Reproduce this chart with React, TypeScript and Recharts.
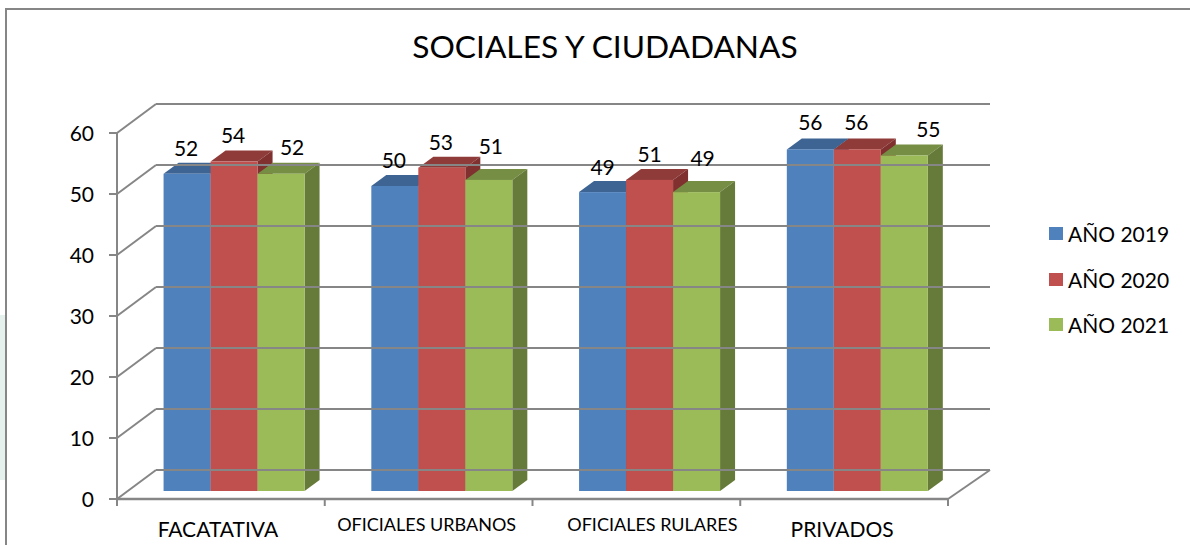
import { Bar, BarChart, LabelList, Legend, XAxis, YAxis } from 'recharts'

const categories = ['FACATATIVA', 'OFICIALES URBANOS', 'OFICIALES RULARES', 'PRIVADOS']
const series2019 = [52, 50, 49, 56]
const series2020 = [54, 53, 51, 56]
const series2021 = [52, 51, 49, 55]
const yTicks = [0, 10, 20, 30, 40, 50, 60]

const data = categories.map((name, i) => ({
  name,
  y2019: series2019[i],
  y2020: series2020[i],
  y2021: series2021[i],
}))

const FONT = 'Lato, "Open Sans", sans-serif'
const AXIS = '#868686'

// the fake 3d: how far the back wall sits behind the axes, how far the bars
// stand inside the floor and how deep they are
const WALL_DX = 39
const WALL_DY = -29
const WALL_RIGHT = 990
const BAR_DX = 12.5
const BAR_DY = -8
const DEPTH_DX = 15
const DEPTH_DY = -11

const xLabelStyle = [
  { size: 21, dx: -3, y: 531 },
  { size: 18, dx: -2, y: 525 },
  { size: 18, dx: 16, y: 525 },
  { size: 21, dx: -2, y: 531 },
]

// excel puts the labels of the last series further right and a bit off
const labelNudge = {
  y2019: [-1, -1, 0, 0],
  y2020: [-1, -1, 0, -1],
  y2021: [11, 2, 6, 24],
}
const labelLift = {
  y2019: [1, 1, 2, 0],
  y2020: [0, 1, 1, 0],
  y2021: [0, -7, -7, 0],
}

function Bar3d(props: any) {
  const { x, y, width, height, front, top, side } = props
  const l = x + BAR_DX
  const r = l + width
  const t = y + BAR_DY
  const b = t + height
  return (
    <g>
      <polygon
        points={`${l},${t} ${l + DEPTH_DX},${t + DEPTH_DY} ${r + DEPTH_DX},${t + DEPTH_DY} ${r},${t}`}
        fill={top}
      />
      <polygon
        points={`${r},${t} ${r + DEPTH_DX},${t + DEPTH_DY} ${r + DEPTH_DX},${b + DEPTH_DY} ${r},${b}`}
        fill={side}
      />
      <rect x={l} y={t} width={width} height={height} fill={front} />
    </g>
  )
}

function YTick(props: any) {
  const { x, y, payload } = props
  return (
    <g>
      <line x1={x - 8} y1={y} x2={x} y2={y} stroke={AXIS} strokeWidth={2} />
      <line x1={x} y1={y} x2={x + WALL_DX} y2={y + WALL_DY} stroke={AXIS} strokeWidth={2} />
      <line x1={x + WALL_DX} y1={y + WALL_DY} x2={WALL_RIGHT} y2={y + WALL_DY} stroke={AXIS} strokeWidth={2} />
      <text x={x - 23} y={y + 8} textAnchor="end" fontSize={21} fontFamily={FONT} fill="#000">
        {payload.value}
      </text>
    </g>
  )
}

function XTick(props: any) {
  const { x, y, payload, index, width } = props
  const band = width / categories.length
  const st = xLabelStyle[index]
  const last = index === categories.length - 1
  return (
    <g>
      <line x1={x - band / 2} y1={y} x2={x - band / 2} y2={y + 7} stroke={AXIS} strokeWidth={2} />
      {last && <line x1={x + band / 2} y1={y} x2={x + band / 2} y2={y + 7} stroke={AXIS} strokeWidth={2} />}
      {last && (
        <line x1={x + band / 2} y1={y} x2={WALL_RIGHT} y2={y + WALL_DY} stroke={AXIS} strokeWidth={2} />
      )}
      <text x={x + st.dx} y={st.y} dy={6} textAnchor="middle" fontSize={st.size} fontFamily={FONT} fill="#000">
        {payload.value}
      </text>
    </g>
  )
}

function valueLabel(key: keyof typeof labelNudge) {
  return (props: any) => {
    const { x, y, width, value, index } = props
    return (
      <text
        x={x + BAR_DX + width / 2 + labelNudge[key][index]}
        y={y + BAR_DY - 19 + labelLift[key][index]}
        textAnchor="middle"
        fontSize={21}
        fontFamily={FONT}
        fill="#000"
      >
        {value}
      </text>
    )
  }
}

function LegendBox({ payload }: any) {
  return (
    <div style={{ fontFamily: FONT, fontSize: 21, color: '#000' }}>
      {payload.map((p: any) => (
        <div key={p.value} style={{ display: 'flex', alignItems: 'center', height: 45.5 }}>
          <span style={{ width: 14, height: 13, background: p.color, marginRight: 5 }} />
          {p.value}
        </div>
      ))}
    </div>
  )
}

export default function App() {
  return (
    <div
      style={{
        position: 'absolute',
        left: 0,
        top: 0,
        width: 1190,
        height: 545,
        overflow: 'hidden',
        background: '#fff',
      }}
    >
      <div style={{ position: 'absolute', left: 0, top: 315, width: 5, height: 165, background: '#E4F1EC' }} />
      <div style={{ position: 'absolute', left: 5, top: 8, width: 1185, height: 2, background: AXIS }} />
      <div style={{ position: 'absolute', left: 5, top: 8, width: 2, height: 537, background: AXIS }} />
      <div
        style={{
          position: 'absolute',
          left: 0,
          width: 1190,
          top: 24,
          textAlign: 'center',
          fontFamily: FONT,
          fontSize: 31.7,
          lineHeight: '44px',
          color: '#000',
          textIndent: 20,
        }}
      >
        SOCIALES Y CIUDADANAS
      </div>
      <BarChart
        width={1190}
        height={545}
        data={data}
        margin={{ top: 133, right: 102, bottom: 0, left: 0 }}
        barCategoryGap="16.4%"
        barGap={0}
      >
        <YAxis
          width={117}
          domain={[0, 60]}
          ticks={yTicks}
          interval={0}
          tick={<YTick />}
          tickLine={false}
          tickSize={0}
          tickMargin={0}
          axisLine={{ stroke: AXIS, strokeWidth: 2 }}
        />
        <XAxis
          dataKey="name"
          height={46}
          interval={0}
          tick={<XTick />}
          tickLine={false}
          tickSize={0}
          tickMargin={0}
          axisLine={{ stroke: AXIS, strokeWidth: 2.5 }}
        />
        <Legend
          layout="vertical"
          align="right"
          verticalAlign="top"
          wrapperStyle={{ left: 1049, top: 211, width: 140 }}
          content={<LegendBox />}
        />
        <Bar
          dataKey="y2019"
          name="AÑO 2019"
          fill="#4F81BD"
          isAnimationActive={false}
          shape={<Bar3d front="#4F81BD" top="#3D6493" side="#3A5F8B" />}
        >
          <LabelList dataKey="y2019" content={valueLabel('y2019')} />
        </Bar>
        <Bar
          dataKey="y2020"
          name="AÑO 2020"
          fill="#C0504D"
          isAnimationActive={false}
          shape={<Bar3d front="#C0504D" top="#8F3B39" side="#7F302F" />}
        >
          <LabelList dataKey="y2020" content={valueLabel('y2020')} />
        </Bar>
        <Bar
          dataKey="y2021"
          name="AÑO 2021"
          fill="#9BBB59"
          isAnimationActive={false}
          shape={<Bar3d front="#9BBB59" top="#758E43" side="#667A3A" />}
        >
          <LabelList dataKey="y2021" content={valueLabel('y2021')} />
        </Bar>
      </BarChart>
    </div>
  )
}
